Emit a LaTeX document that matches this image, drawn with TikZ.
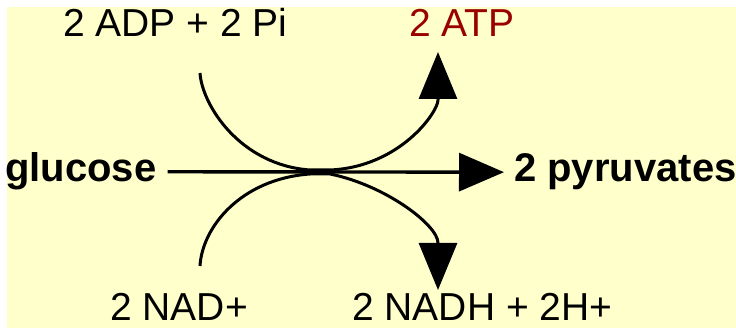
\documentclass[tikz,border=0pt]{standalone}
\usepackage{fontspec}
\setmainfont{Liberation Sans}
\usetikzlibrary{arrows.meta}
\definecolor{amarillo}{HTML}{FFFFCC}
\definecolor{granate}{HTML}{990000}
\tikzset{
  texto/.style    = {font=\fontsize{39}{40}\selectfont, inner sep=0pt,
                     anchor=base west},
  negrita/.style  = {texto, font=\fontsize{40}{41}\selectfont\bfseries},
  flecha/.style   = {-{Triangle[length=45pt, width=38pt]}, draw=black,
                     line width=3.4pt, shorten <=11pt, shorten >=10pt},
  curva/.style    = {-{Triangle[length=47pt, width=38pt]}, draw=black,
                     line width=3pt},
}
\begin{document}
\begin{tikzpicture}[x=1pt, y=-1pt]

% =============================================================================
% Fondo
% =============================================================================
\useasboundingbox (0,0) rectangle (736,328);
\fill[white] (0,0) rectangle (736,328);
\fill[amarillo] (7,7) rectangle (736,328);

% =============================================================================
% Sustratos y productos
% =============================================================================
\node[texto] (adp) at (63,37) {2 ADP + 2 Pi};
\node[texto, text=granate] (atp) at (409,37) {2 ATP};
\node[negrita] (glucosa) at (5,182) {glucose};
\node[negrita] (piruvatos) at (514,182) {2 pyruvates};
\node[texto] (nad) at (110,321) {2 NAD+};
\node[texto] (nadh) at (352,321) {2 NADH + 2H+};

\coordinate (entra_adp) at (200,73);
\coordinate (sale_atp) at (438,52);
\coordinate (entra_nad) at (200,266);
\coordinate (sale_nadh) at (438,290);

% =============================================================================
% Reaccion principal y reacciones acopladas
% =============================================================================
\draw[flecha] (glucosa.east) -- (piruvatos.west);

\draw[curva] (entra_adp) .. controls (202,105) and (240,165) .. (310,170)
  -- (330,170) .. controls (400,167) and (438,112) .. (438,100) -- (sale_atp);
\draw[curva] (entra_nad) .. controls (202,228) and (240,179) .. (310,174)
  -- (330,174) .. controls (385,185) and (438,225) .. (438,243) -- (sale_nadh);

\end{tikzpicture}
\end{document}
